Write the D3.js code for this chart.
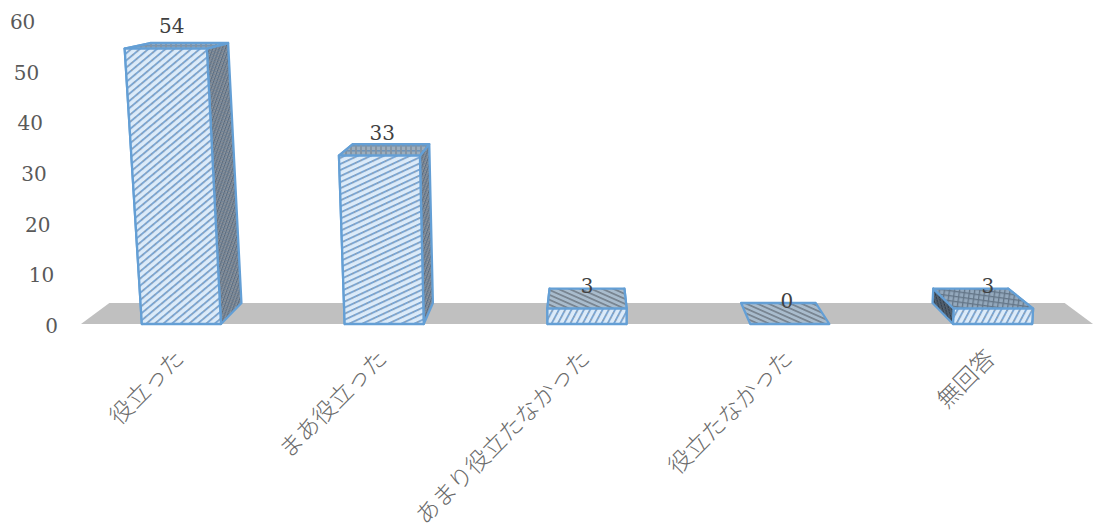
<!DOCTYPE html>
<html>
<head>
<meta charset="utf-8">
<script src="https://cdn.jsdelivr.net/npm/d3@7"></script>
<style>
  html, body { margin: 0; padding: 0; background: #fff; }
  svg { display: block; }
</style>
</head>
<body>
<svg id="chart" width="1093" height="530"></svg>
<script>
const categories = ['役立った', 'まあ役立った', 'あまり役立たなかった', '役立たなかった', '無回答'];
const values = [54, 33, 3, 0, 3];
const yTicks = [0, 10, 20, 30, 40, 50, 60];
// stripe angle of the front face, the chart stretches its texture per bar
const frontAngles = [-40, -25, -62, -40, -62];

const W = 1093, H = 530;
const FLOOR_Y = 324, DEPTH_Y = 21;
const FLOOR_L = 81, FLOOR_R = 1093;
const C_BORDER = '#649fd5';

const svg = d3.select('#chart');

const x = d3.scaleBand().domain(categories).range([FLOOR_L - 1, FLOOR_R + 1])
  .paddingInner(0.61).paddingOuter(0.305);
const barH = d3.scaleLinear().domain([0, 60]).range([0, 306]);
const y = d3.scaleLinear().domain([0, 60]).range([FLOOR_Y, 20]);

// fake perspective, everything leans away from the middle of the floor
const CX = 587, SHRINK = 0.056, LEAN = 0.00014;
function project(px, h, d) {
  const s = 1 - SHRINK * d;
  return [CX + (px - CX) * s * (1 + LEAN * h), FLOOR_Y - DEPTH_Y * d - h * s];
}
const poly = pts => pts.map(p => p.join(',')).join(' ');

const defs = svg.append('defs');

function stripes(id, bg, fg, size, lw, angle) {
  const p = defs.append('pattern').attr('id', id)
    .attr('patternUnits', 'userSpaceOnUse')
    .attr('width', size).attr('height', size)
    .attr('patternTransform', `rotate(${angle})`);
  p.append('rect').attr('width', size).attr('height', size).attr('fill', bg);
  p.append('rect').attr('width', size).attr('height', lw).attr('fill', fg);
  return p;
}

frontAngles.forEach((a, i) => {
  const p = stripes('front' + i, '#dcebf9', '#7aa6d4', 5.5, 1.9, a);
  // stripes look broken up in the picture, small grey ticks along them
  p.append('rect').attr('width', 1.4).attr('height', 1.9).attr('fill', '#8f9fb0');
});

// side faces, fine dark mesh
const side = stripes('side', '#8d949c', '#59687a', 3, 1.2, -70);
side.append('rect').attr('width', 1).attr('height', 3).attr('fill', '#6f8296');
const sideDark = stripes('sideDark', '#5c6670', '#2f3d4c', 3, 1.3, 75);
sideDark.append('rect').attr('width', 1).attr('height', 3).attr('fill', '#47586a');

// tops
const topTall = stripes('topTall', '#9dadbb', '#6f94b8', 5, 1.6, 0);
topTall.append('rect').attr('width', 2).attr('height', 5).attr('fill', '#8494a3');
stripes('topHatch', '#a9bccd', '#76828e', 4.5, 1.7, 24);
const topGrid = stripes('topGrid', '#94a9bd', '#647688', 5, 1.3, 8);
topGrid.append('rect').attr('width', 1.3).attr('height', 5).attr('fill', '#647688');
const topFills = ['topTall', 'topTall', 'topHatch', 'topHatch', 'topGrid'];
const sideFills = ['side', 'side', 'side', 'side', 'sideDark'];

// floor
svg.append('polygon')
  .attr('points', poly([project(FLOOR_L, 0, 0), project(FLOOR_R, 0, 0), project(FLOOR_R, 0, 1), project(FLOOR_L, 0, 1)]))
  .attr('fill', '#c0c0c0');

// bars
const bars = svg.selectAll('.bar').data(categories).join('g').attr('class', 'bar');

bars.each(function(c, i) {
  const g = d3.select(this);
  const l = x(c), r = l + x.bandwidth(), h = barH(values[i]);
  const face = (pts, fill) => g.append('polygon')
    .attr('points', poly(pts))
    .attr('fill', fill)
    .attr('stroke', C_BORDER)
    .attr('stroke-width', 2.3)
    .attr('stroke-linejoin', 'round');

  if (h > 0) {
    face([project(r, 0, 0), project(r, h, 0), project(r, h, 1), project(r, 0, 1)], `url(#${sideFills[i]})`);
    face([project(l, 0, 0), project(l, h, 0), project(l, h, 1), project(l, 0, 1)], `url(#${sideFills[i]})`);
  }
  face([project(l, h, 0), project(r, h, 0), project(r, h, 1), project(l, h, 1)], `url(#${topFills[i]})`);
  if (h > 0) face([project(l, 0, 0), project(r, 0, 0), project(r, h, 0), project(l, h, 0)], `url(#front${i})`);
});

// value labels
svg.selectAll('.val').data(categories).join('text')
  .attr('class', 'val')
  .attr('x', c => project(x(c) + x.bandwidth() / 2, barH(values[categories.indexOf(c)]), 0.25)[0])
  .attr('y', c => FLOOR_Y - barH(values[categories.indexOf(c)]) - 16)
  .attr('text-anchor', 'middle')
  .attr('font-family', '"DejaVu Serif", serif')
  .attr('font-size', 20)
  .attr('fill', '#404040')
  .text(c => values[categories.indexOf(c)]);

// y axis, labels slide along the leaning left edge
const axis = svg.append('g').call(d3.axisLeft(y).tickValues(yTicks).tickSize(0).tickPadding(0));
axis.select('.domain').remove();
axis.selectAll('.tick')
  .attr('transform', d => `translate(${project(58, barH(d), 0)[0]},${y(d) + 2.5})`);
axis.selectAll('.tick text')
  .attr('font-family', '"DejaVu Serif", serif')
  .attr('font-size', 20)
  .attr('fill', '#595959');

// category labels
svg.selectAll('.cat').data(categories).join('text')
  .attr('class', 'cat')
  .attr('transform', c => `translate(${x(c) + x.bandwidth() / 2 + 4},${360}) rotate(-45)`)
  .attr('text-anchor', 'end')
  .attr('font-family', '"Noto Sans CJK JP", sans-serif')
  .attr('font-weight', 300)
  .attr('font-size', 23.4)
  .attr('fill', '#6b6b6b')
  .text(c => c);
</script>
</body>
</html>
